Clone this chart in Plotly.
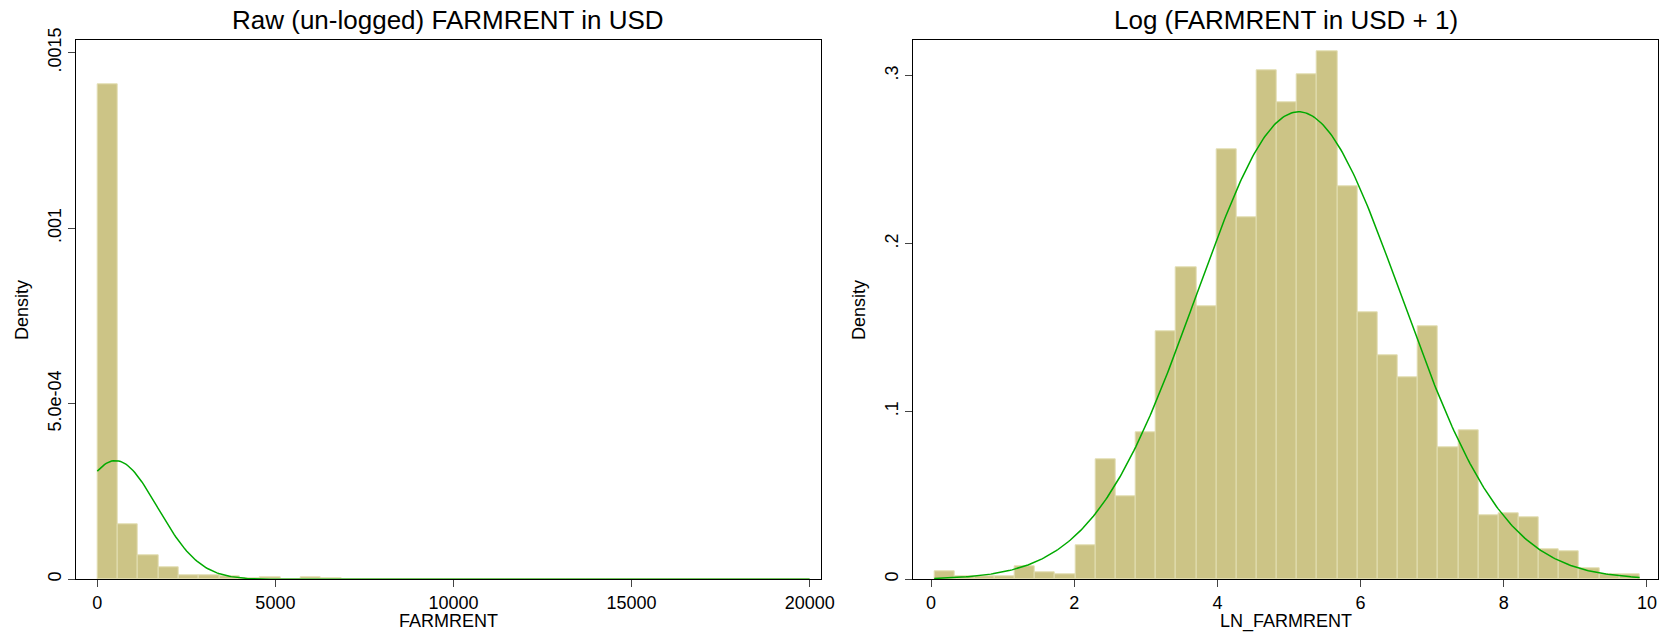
import plotly.graph_objects as go
import numpy as np

# ---------------- data ----------------
# Left panel: raw FARMRENT histogram (density), 35 bins from 0 to 20000
raw_bin_start = 0.0
raw_bin_width = 571.43
raw_density = [
    0.001411, 0.000158, 0.0000685, 0.0000355, 0.0000124, 0.0000124, 0.0000086,
    0.0000020, 0.0000067, 0.0000010, 0.0000048, 0.0000015, 0.0, 0.0,
    0.0000010, 0.0, 0.0000008, 0.0000008, 0.0000008, 0.0, 0.0000008,
    0.0000008, 0.0000008, 0.0, 0.0, 0.0, 0.0000008, 0.0000008,
    0.0, 0.0, 0.0000008, 0.0, 0.0, 0.0000008, 0.0000008,
]
raw_mean = 510.0
raw_sd = 1180.0

# Right panel: log(FARMRENT + 1) histogram (density), 35 bins
log_bin_start = 0.045
log_bin_width = 0.2815
log_density = [
    0.0045, 0.0015, 0.0015, 0.0015, 0.0079, 0.0044, 0.0030, 0.0202,
    0.0716, 0.0495, 0.0875, 0.1480, 0.1856, 0.1629, 0.2563, 0.2157,
    0.3034, 0.2840, 0.3010, 0.3145, 0.2344, 0.1593, 0.1337, 0.1201,
    0.1506, 0.0785, 0.0886, 0.0380, 0.0392, 0.0368, 0.0179, 0.0166,
    0.0066, 0.0030, 0.0030,
]
log_mean = 5.135
log_sd = 1.4325

raw_xticks = [0, 5000, 10000, 15000, 20000]
raw_xticktext = ["0", "5000", "10000", "15000", "20000"]
raw_yticks = [0, 0.0005, 0.001, 0.0015]
raw_yticktext = ["0", "5.0e-04", ".001", ".0015"]
log_xticks = [0, 2, 4, 6, 8, 10]
log_xticktext = ["0", "2", "4", "6", "8", "10"]
log_yticks = [0, 0.1, 0.2, 0.3]
log_yticktext = ["0", ".1", ".2", ".3"]

titles = ["Raw (un-logged) FARMRENT in USD", "Log (FARMRENT in USD + 1)"]
xtitles = ["FARMRENT", "LN_FARMRENT"]
ytitle = "Density"

# ---------------- style ----------------
W, H = 1669, 636
FONT = "Liberation Sans, Arial, Helvetica, sans-serif"
BAR_FILL = "#CCC486"
BAR_LINE = "#E3DEB3"
CURVE = "#00AA00"


def px_x(p):  # page pixel -> paper fraction
    return p / W


def px_y(p):
    return 1 - p / H


left_dom = [px_x(75.7), px_x(821.0)]
right_dom = [px_x(912.7), px_x(1658.3)]
y_dom = [px_y(579.3), px_y(40.3)]


def centers(start, width, n):
    return [start + width * (i + 0.5) for i in range(n)]


def normal_curve(mu, sd, lo, hi, n=400):
    xs = np.linspace(lo, hi, n)
    ys = np.exp(-0.5 * ((xs - mu) / sd) ** 2) / (sd * np.sqrt(2 * np.pi))
    return xs, ys


fig = go.Figure()

# left histogram
fig.add_trace(go.Bar(
    x=centers(raw_bin_start, raw_bin_width, len(raw_density)),
    y=raw_density,
    width=[raw_bin_width] * len(raw_density),
    marker=dict(color=BAR_FILL, line=dict(color=BAR_LINE, width=1)),
    xaxis="x", yaxis="y", showlegend=False, hoverinfo="skip",
))
rx, ry = normal_curve(raw_mean, raw_sd, raw_bin_start,
                      raw_bin_start + raw_bin_width * len(raw_density))
fig.add_trace(go.Scatter(x=rx, y=ry, mode="lines",
                         line=dict(color=CURVE, width=1.5),
                         xaxis="x", yaxis="y", showlegend=False, hoverinfo="skip"))

# right histogram
fig.add_trace(go.Bar(
    x=centers(log_bin_start, log_bin_width, len(log_density)),
    y=log_density,
    width=[log_bin_width] * len(log_density),
    marker=dict(color=BAR_FILL, line=dict(color=BAR_LINE, width=1)),
    xaxis="x2", yaxis="y2", showlegend=False, hoverinfo="skip",
))
lx, ly = normal_curve(log_mean, log_sd, log_bin_start,
                      log_bin_start + log_bin_width * len(log_density))
fig.add_trace(go.Scatter(x=lx, y=ly, mode="lines",
                         line=dict(color=CURVE, width=1.5),
                         xaxis="x2", yaxis="y2", showlegend=False, hoverinfo="skip"))

axis_common = dict(
    showgrid=False, zeroline=False, showline=True, linecolor="black",
    linewidth=1, mirror=True, ticks="outside", ticklen=7, tickwidth=1,
    tickcolor="#444444", tickfont=dict(family=FONT, size=18, color="black"),
    fixedrange=True, automargin=False,
)

fig.update_layout(
    width=W, height=H,
    margin=dict(l=0, r=0, t=0, b=0),
    paper_bgcolor="white", plot_bgcolor="white",
    bargap=0, barmode="overlay",
    font=dict(family=FONT, color="black"),
    xaxis=dict(domain=left_dom, range=[-606, 20317], anchor="y",
               tickmode="array", tickvals=raw_xticks, ticktext=raw_xticktext,
               **axis_common),
    yaxis=dict(domain=y_dom, range=[0, 0.001535], anchor="x",
               tickmode="array", tickvals=raw_yticks, ticktext=raw_yticktext,
               tickangle=-90, **axis_common),
    xaxis2=dict(domain=right_dom, range=[-0.2556, 10.158], anchor="y2",
                tickmode="array", tickvals=log_xticks, ticktext=log_xticktext,
                **axis_common),
    yaxis2=dict(domain=y_dom, range=[0, 0.3211], anchor="x2",
                tickmode="array", tickvals=log_yticks, ticktext=log_yticktext,
                tickangle=-90, **axis_common),
)

ann = []
for title, dom in zip(titles, [left_dom, right_dom]):
    ann.append(dict(text=title, x=(dom[0] + dom[1]) / 2, y=px_y(20),
                    xref="paper", yref="paper", showarrow=False,
                    xanchor="center", yanchor="middle",
                    font=dict(family=FONT, size=26, color="black")))
for xt, dom in zip(xtitles, [left_dom, right_dom]):
    ann.append(dict(text=xt, x=(dom[0] + dom[1]) / 2, y=px_y(621),
                    xref="paper", yref="paper", showarrow=False,
                    xanchor="center", yanchor="middle",
                    font=dict(family=FONT, size=18, color="black")))
for xp in [22, 859]:
    ann.append(dict(text=ytitle, x=px_x(xp), y=px_y(310),
                    xref="paper", yref="paper", showarrow=False,
                    xanchor="center", yanchor="middle", textangle=-90,
                    font=dict(family=FONT, size=18, color="black")))
fig.update_layout(annotations=ann)

# remove the default page margin so the figure fills the window exactly
fig.write_html("out.html",
               config={"displayModeBar": False},
               post_script="document.body.style.margin='0';"
                           "document.body.style.overflow='hidden';")
